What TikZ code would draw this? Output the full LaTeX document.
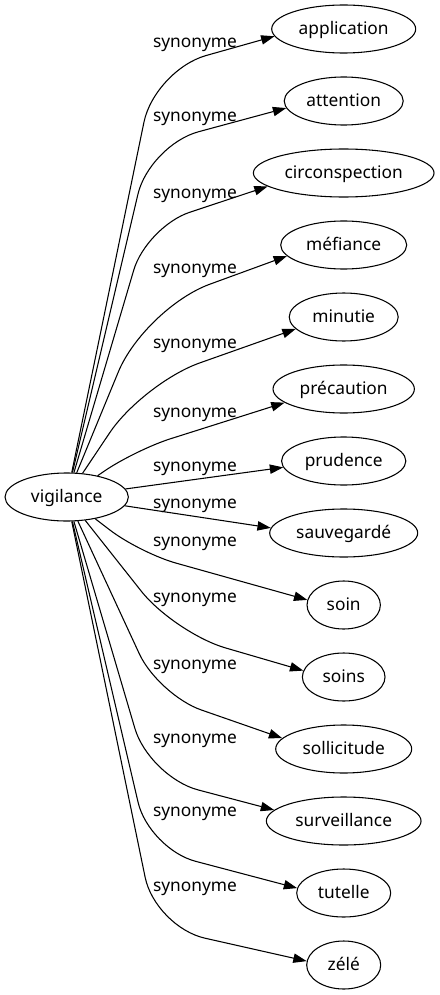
\documentclass[tikz,border=0pt]{standalone}
\usepackage{fontspec}
\setmainfont{Noto Sans}
\usetikzlibrary{shapes.geometric,arrows.meta}
\begin{document}
\begin{tikzpicture}[x=0.75pt,y=-0.75pt,
  every node/.style={font=\fontsize{13pt}{15pt}\selectfont},
  term/.style={ellipse,draw,line width=0.8pt,inner sep=0pt,minimum height=36pt,
    text height=10.9pt,text depth=2.1pt},
  rel/.style={anchor=base,inner sep=0pt},
  edge/.style={draw,line width=0.8pt,-{Triangle[length=10pt,width=7pt]}}]
\useasboundingbox (0,0) rectangle (439,995);
\node[term,minimum width=92.5pt] (v) at (66.7,497) {vigilance};
\node[term,minimum width=108pt]   (t1)  at (343.7,29)  {application};
\node[term,minimum width=89.25pt] (t2)  at (343.7,101) {attention};
\node[term,minimum width=135.5pt] (t3)  at (343.7,173) {circonspection};
\node[term,minimum width=94.5pt]  (t4)  at (343.7,245) {méfiance};
\node[term,minimum width=81.75pt] (t5)  at (343.7,317) {minutie};
\node[term,minimum width=106pt]   (t6)  at (343.7,389) {précaution};
\node[term,minimum width=93.2pt]  (t7)  at (343.7,461) {prudence};
\node[term,minimum width=111pt]   (t8)  at (343.7,533) {sauvegardé};
\node[term,minimum width=55pt]    (t9)  at (343.7,605) {soin};
\node[term,minimum width=62pt]    (t10) at (343.7,677) {soins};
\node[term,minimum width=102pt]   (t11) at (343.7,749) {sollicitude};
\node[term,minimum width=116pt]   (t12) at (343.7,821) {surveillance};
\node[term,minimum width=70.5pt]  (t13) at (343.7,893) {tutelle};
\node[term,minimum width=55.5pt]  (t14) at (343.7,965) {zélé};

\coordinate (k1)  at (154.7,70);
\coordinate (k2)  at (149.5,145);
\coordinate (k3)  at (146.6,226.6);
\coordinate (k4)  at (144.7,308);
\coordinate (k5)  at (143,383);
\coordinate (k6)  at (135,450);
\coordinate (k9)  at (140,553);
\coordinate (k10) at (174.4,633);
\coordinate (k11) at (158.4,695);
\coordinate (k12) at (149.2,777);
\coordinate (k13) at (149,849);
\coordinate (k14) at (155.4,927);

\draw[edge,rounded corners=40pt] (v) -- (k1) -- (t1.186.4);
\draw[edge,rounded corners=38pt] (v) -- (k2) -- (t2.187.1);
\draw[edge,rounded corners=34pt] (v) -- (k3) -- (t3.190.8);
\draw[edge,rounded corners=52pt] (v) -- (k4) -- (t4.191.7);
\draw[edge,rounded corners=45pt] (v) -- (k5) -- (t5.194.5);
\draw[edge,rounded corners=28pt] (v) -- (k6) -- (t6.193.3);
\draw[edge] (v) -- (t7.186.9);
\draw[edge] (v) -- (t8.176.4);
\draw[edge,rounded corners=28pt] (v) -- (k9) -- (t9.172.2);
\draw[edge,rounded corners=40pt] (v) -- (k10) -- (t10.171.1);
\draw[edge,rounded corners=34pt] (v) -- (k11) -- (t11.170.2);
\draw[edge,rounded corners=38pt] (v) -- (k12) -- (t12.171.5);
\draw[edge,rounded corners=36pt] (v) -- (k13) -- (t13.174.3);
\draw[edge,rounded corners=38pt] (v) -- (k14) -- (t14.174.8);

\node[rel] (l1)  at (195,48)  {synonyme};
\node[rel] (l2)  at (195,122) {synonyme};
\node[rel] (l3)  at (195,198) {synonyme};
\node[rel] (l4)  at (195,273) {synonyme};
\node[rel] (l5)  at (195,348) {synonyme};
\node[rel] (l6)  at (195,417) {synonyme};
\node[rel] (l7)  at (195,471) {synonyme};
\node[rel] (l8)  at (195,508) {synonyme};
\node[rel] (l9)  at (195,546) {synonyme};
\node[rel] (l10) at (195,602) {synonyme};
\node[rel] (l11) at (195,669) {synonyme};
\node[rel] (l12) at (195,743) {synonyme};
\node[rel] (l13) at (195,816) {synonyme};
\node[rel] (l14) at (195,891) {synonyme};
\end{tikzpicture}
\end{document}
